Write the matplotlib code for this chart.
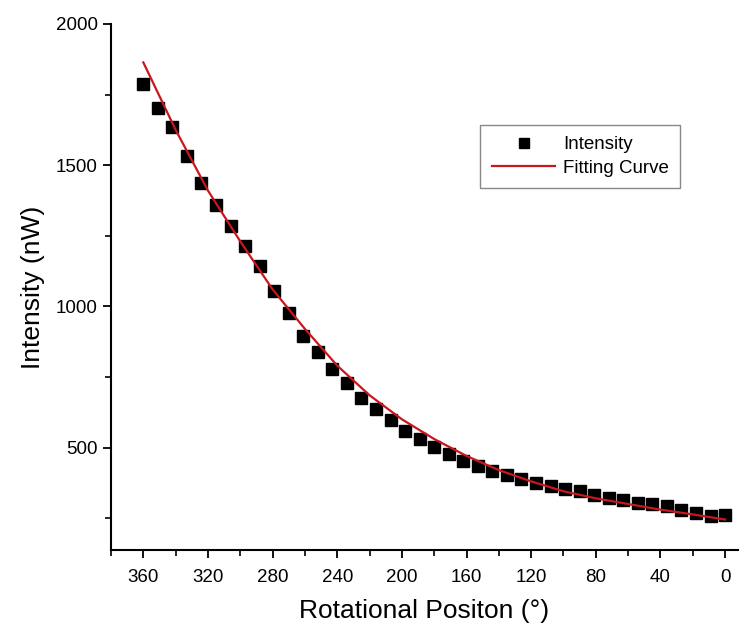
import numpy as np
import matplotlib
matplotlib.use("Agg")
import matplotlib.pyplot as plt
from matplotlib.ticker import MultipleLocator

plt.rcParams['font.family'] = ['Liberation Sans', 'DejaVu Sans']

# measured intensity, every 9 degrees from 360 down to 0
angle = np.arange(360, -1, -9)
intensity = [1788, 1704, 1636, 1533, 1437, 1360, 1284, 1214, 1143, 1055,
             975, 896, 837, 779, 729, 675, 638, 597, 557, 530,
             501, 476, 452, 434, 416, 401, 387, 376, 364, 353,
             345, 331, 321, 313, 305, 300, 292, 280, 268, 259,
             260]

# fitting curve
fit_angle = [360, 340, 320, 300, 280, 260, 240, 220, 200, 180,
             160, 140, 120, 100, 80, 60, 40, 20, 0]
fit_value = [1864, 1625, 1410, 1230, 1060, 920, 790, 685, 600, 530,
             470, 420, 380, 345, 320, 300, 280, 263, 245]

fig = plt.figure(figsize=(7.42, 6.31), dpi=100)
ax = fig.add_axes([111/742, 1 - 550/631, 627/742, 526/631])

ax.plot(angle, intensity, 's', color='black', markersize=8.5, label='Intensity')
ax.plot(fit_angle, fit_value, '-', color='#c8171d', linewidth=1.6, label='Fitting Curve')

ax.set_xlim(380, -8)
ax.set_ylim(137, 2000)
ax.xaxis.set_major_locator(MultipleLocator(40))
ax.xaxis.set_minor_locator(MultipleLocator(20))
ax.yaxis.set_major_locator(MultipleLocator(500))
ax.yaxis.set_minor_locator(MultipleLocator(250))
ax.set_yticks([500, 1000, 1500, 2000])

for s in ['top', 'right']:
    ax.spines[s].set_visible(False)
for s in ['left', 'bottom']:
    ax.spines[s].set_linewidth(1.5)

ax.tick_params(which='major', direction='out', length=6, width=1.3, labelsize=13.5)
ax.tick_params(axis='x', which='major', pad=8)
ax.tick_params(which='minor', direction='out', length=4, width=1.2)

ax.set_xlabel('Rotational Positon (°)', fontsize=19, labelpad=9)
ax.set_ylabel('Intensity (nW)', fontsize=19, labelpad=8)

leg = ax.legend(loc='upper right', bbox_to_anchor=(0.9075, 0.808), borderaxespad=0,
                fontsize=13.5, fancybox=False, edgecolor='#888888', framealpha=1,
                handlelength=3.4, handletextpad=0.4, borderpad=0.6,
                labelspacing=0.35, markerscale=0.8)
leg.get_frame().set_linewidth(1.0)

fig.savefig('out.png', dpi=100)
